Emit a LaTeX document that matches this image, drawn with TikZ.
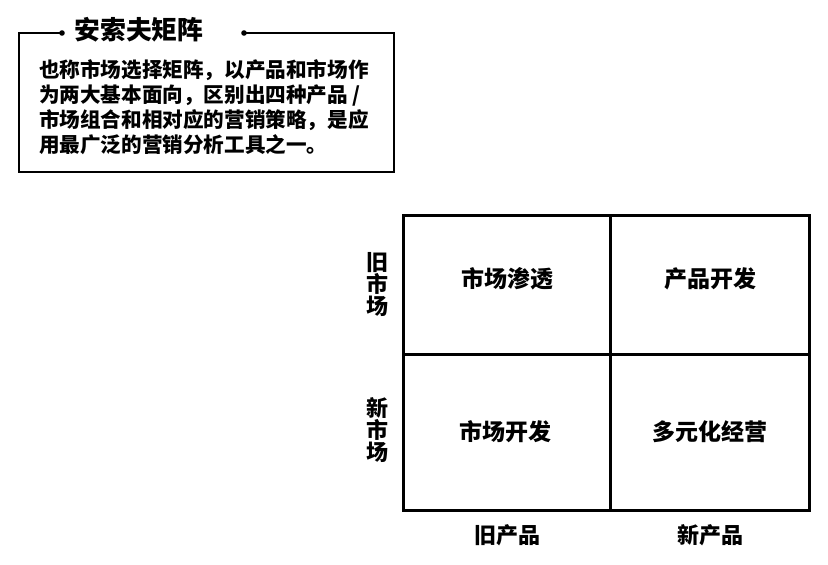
\documentclass[tikz,border=0pt]{standalone}
\usepackage{fontspec}
\newfontfamily\cjk{Noto Sans CJK SC}
\usetikzlibrary{positioning}

\begin{document}
\begin{tikzpicture}[x=1pt,y=-1pt]
\tikzstyle{every node}+=[inner sep=0pt]
\tikzstyle{cell}=[font=\cjk\bfseries\fontsize{23}{23}\selectfont]
\tikzstyle{side}=[font=\cjk\bfseries\fontsize{22}{22}\selectfont,align=center]
\tikzstyle{frame}=[line width=2.4pt]
\tikzstyle{grid}=[line width=3pt]
\useasboundingbox (0,0) rectangle (828,565);
% info box
\coordinate (dl) at (62,33);
\coordinate (dr) at (244,33);
\draw [frame] (dl) -- (19,33) -- (19,172) -- (394,172) -- (394,33) -- (dr);
\fill (dl) circle (2.8pt);
\fill (dr) circle (2.8pt);
\node [font=\cjk\bfseries\fontsize{25.8}{26}\selectfont] (title) at (139,30) {安索夫矩阵};
\node [font=\cjk\bfseries\fontsize{20.6}{25.3}\selectfont,align=left,anchor=north west] (desc) at (39,59)
  {也称市场选择矩阵，以产品和市场作\\为两大基本面向，区别出四种产品 /\\市场组合和相对应的营销策略，是应\\用最广泛的营销分析工具之一。};
% matrix
\coordinate (nw) at (403,215);
\coordinate (se) at (809,510);
\draw [grid] (nw) rectangle (se);
\draw [grid] (610,215) -- (610,510);
\draw [grid] (403,354) -- (809,354);
\node [cell] (pen) at (507,279) {市场渗透};
\node [cell] (prod) at (710,279) {产品开发};
\node [cell] (mkt) at (505,432) {市场开发};
\node [cell] (div) at (710,432) {多元化经营};
% axis labels
\node [side] (oldm) at (377,284) {旧\\市\\场};
\node [side] (newm) at (377,430) {新\\市\\场};
\node [side] (oldp) at (507,535) {旧产品};
\node [side] (newp) at (710,535) {新产品};
\end{tikzpicture}
\end{document}
